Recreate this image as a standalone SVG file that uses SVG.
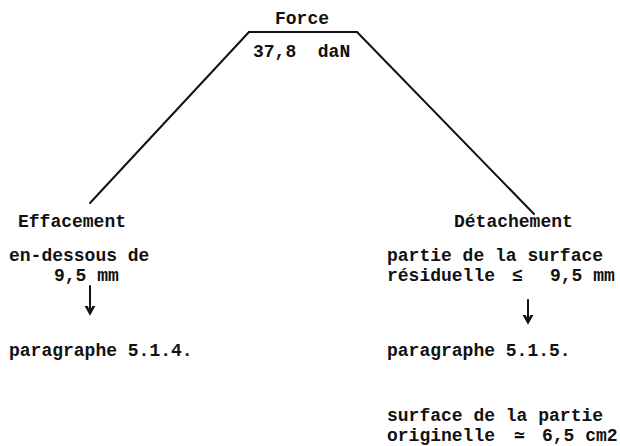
<svg xmlns="http://www.w3.org/2000/svg" width="620" height="446" viewBox="0 0 620 446">
<style>
  text { font-family: "Liberation Mono", "Courier New", monospace; font-size: 18px; font-weight: bold; fill: #111; }
  .ln { stroke: #111; stroke-width: 2; fill: none; stroke-linecap: round; }
</style>
<defs>
  <marker id="ah" viewBox="-7 -7 14 14" markerWidth="14" markerHeight="14" refX="0" refY="0" orient="auto" markerUnits="userSpaceOnUse">
    <path d="M-9,-5 L0,0 L-9,5" fill="none" stroke="#111" stroke-width="2.6" stroke-linejoin="miter"/>
  </marker>
</defs>
<rect width="620" height="446" fill="#fff"/>
<g id="node-force">
  <text x="275" y="24">Force</text>
  <line class="ln" x1="249" y1="32" x2="357" y2="32" stroke-width="2.5"/>
  <text x="253" y="57" xml:space="preserve">37,8  daN</text>
</g>
<g id="connectors">
  <line class="ln" x1="249" y1="32" x2="90" y2="203"/>
  <line class="ln" x1="357" y1="32" x2="534" y2="214"/>
  <line class="ln" x1="90" y1="286" x2="90" y2="313" marker-end="url(#ah)"/>
  <line class="ln" x1="528" y1="300" x2="528" y2="322" marker-end="url(#ah)"/>
</g>
<g id="node-effacement">
  <text x="18" y="227">Effacement</text>
  <text x="9" y="261">en-dessous de</text>
  <text x="54" y="281">9,5 mm</text>
</g>
<g id="node-detachement">
  <text x="454" y="227">Détachement</text>
  <text x="387" y="261">partie de la surface</text>
  <text x="387" y="281">résiduelle</text>
  <text x="512" y="281">≤</text>
  <text x="550" y="281">9,5 mm</text>
</g>
<g id="node-para-514">
  <text x="9" y="356">paragraphe 5.1.4.</text>
</g>
<g id="node-para-515">
  <text x="387" y="356">paragraphe 5.1.5.</text>
</g>
<g id="node-surface">
  <text x="387" y="421">surface de la partie</text>
  <text x="387" y="441">originelle</text>
  <text x="514" y="441">≃</text>
  <text x="542" y="441">6,5 cm2</text>
</g>
</svg>
